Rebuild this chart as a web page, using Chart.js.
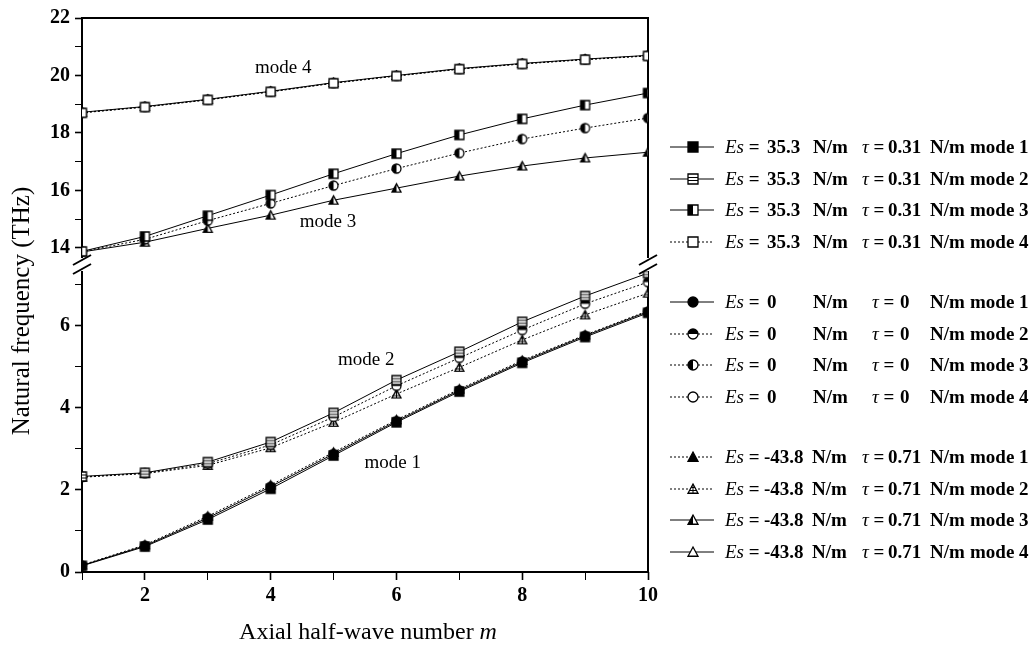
<!DOCTYPE html>
<html>
<head>
<meta charset="utf-8">
<script src="https://cdn.jsdelivr.net/npm/chart.js@4.4.0/dist/chart.umd.min.js"></script>
<style>
html,body{margin:0;padding:0;background:#fff;}
#wrap{position:relative;width:1036px;height:655px;overflow:hidden;}
#c{position:absolute;left:0;top:0;}
#legend{position:absolute;left:0;top:0;width:1036px;height:655px;pointer-events:none;
  font-family:'Liberation Serif','Times New Roman',serif;font-size:19px;font-weight:bold;color:#000;}
.row{position:absolute;left:0;width:1036px;height:24px;line-height:24px;}
.row span{position:absolute;top:0;white-space:nowrap;}
.row i{font-weight:normal;}
.row canvas{position:absolute;top:4px;left:668px;}
</style>
</head>
<body>
<div id="wrap">
  <canvas id="c" width="1036" height="655"></canvas>
  <div id="legend"></div>
</div>
<script>
// ---------------- data ----------------
const halfWaveNumbers = [1, 2, 3, 4, 5, 6, 7, 8, 9, 10];

// Es = 35.3 N/m, tau = 0.31 N/m
const es35Mode1 = [0.15, 0.62, 1.28, 2.03, 2.84, 3.65, 4.40, 5.10, 5.73, 6.32];
const es35Mode2 = [2.33, 2.42, 2.68, 3.17, 3.88, 4.68, 5.37, 6.10, 6.73, 7.29];
const es35Mode3 = [13.88, 14.40, 15.12, 15.84, 16.58, 17.28, 17.93, 18.49, 18.97, 19.39];
const es35Mode4 = [18.70, 18.90, 19.15, 19.43, 19.73, 19.98, 20.22, 20.40, 20.55, 20.68];

// Es = 0 N/m, tau = 0 N/m
const es0Mode1 = [0.16, 0.64, 1.32, 2.08, 2.88, 3.68, 4.43, 5.13, 5.76, 6.35];
const es0Mode2 = [2.32, 2.41, 2.64, 3.10, 3.78, 4.54, 5.22, 5.90, 6.54, 7.07];
const es0Mode3 = [13.87, 14.30, 14.95, 15.55, 16.17, 16.76, 17.30, 17.79, 18.17, 18.52];
const es0Mode4 = [18.71, 18.91, 19.16, 19.44, 19.74, 19.99, 20.23, 20.41, 20.56, 20.69];

// Es = -43.8 N/m, tau = 0.71 N/m
const esNegMode1 = [0.17, 0.66, 1.36, 2.12, 2.92, 3.71, 4.46, 5.16, 5.78, 6.37];
const esNegMode2 = [2.31, 2.40, 2.60, 3.03, 3.65, 4.34, 4.99, 5.66, 6.27, 6.80];
const esNegMode3 = [13.86, 14.20, 14.68, 15.14, 15.66, 16.08, 16.50, 16.85, 17.13, 17.33];
const esNegMode4 = [18.72, 18.92, 19.17, 19.45, 19.75, 20.00, 20.24, 20.42, 20.57, 20.70];

const esLabels = ['35.3', '0', '-43.8'];
const tauLabels = ['0.31', '0', '0.71'];
const modeNames = ['mode 1', 'mode 2', 'mode 3', 'mode 4'];

const xTickValues = [1, 2, 3, 4, 5, 6, 7, 8, 9, 10];
const xTickLabels = ['', '2', '', '4', '', '6', '', '8', '', '10'];
const lowTickValues = [0, 1, 2, 3, 4, 5, 6, 7];
const lowTickLabels = ['0', '', '2', '', '4', '', '6', ''];
const highTickValues = [14, 15, 16, 17, 18, 19, 20, 21, 22];
const highTickLabels = ['14', '', '16', '', '18', '', '20', '', '22'];
const lowRange = [0, 7.34];
const highRange = [13.65, 22];

const annotationTexts = ['mode 4', 'mode 3', 'mode 2', 'mode 1'];
const annotationM = [4.2, 4.91, 5.52, 5.94];
const annotationValues = [20.26, 14.9, 5.17, 2.66];
const annotationAxes = ['yHigh', 'yHigh', 'yLow', 'yLow'];

const seriesByCondition = [
  [es35Mode1, es35Mode2, es35Mode3, es35Mode4],
  [es0Mode1, es0Mode2, es0Mode3, es0Mode4],
  [esNegMode1, esNegMode2, esNegMode3, esNegMode4]
];

// ---------------- styles ----------------
const FONT = "'Liberation Serif','Times New Roman',serif";
const markerShapes = ['square', 'circle', 'triangle'];
const markerFills = [
  ['full', 'hline', 'left', 'none'],
  ['full', 'top', 'left', 'none'],
  ['full', 'cross', 'left', 'none']
];
const dashed = [
  [false, false, false, true],
  [false, true, true, true],
  [true, true, false, false]
];

function makeMarker(shape, fill, size) {
  const pad = 2, n = size + pad * 2;
  const c = document.createElement('canvas');
  c.width = n; c.height = n;
  const g = c.getContext('2d');
  const cx = n / 2, cy = n / 2, r = size / 2;
  const path = () => {
    g.beginPath();
    if (shape === 'square') g.rect(cx - r, cy - r, size, size);
    else if (shape === 'circle') g.arc(cx, cy, r, 0, Math.PI * 2);
    else { g.moveTo(cx, cy - r); g.lineTo(cx + r, cy + r * 0.85); g.lineTo(cx - r, cy + r * 0.85); g.closePath(); }
  };
  path();
  g.fillStyle = fill === 'full' ? '#000' : '#fff';
  g.fill();
  if (fill === 'left' || fill === 'top') {
    g.save(); path(); g.clip();
    g.fillStyle = '#000';
    if (fill === 'left') g.fillRect(0, 0, cx, n); else g.fillRect(0, 0, n, cy);
    g.restore();
  }
  if (fill === 'hline' || fill === 'cross') {
    g.save(); path(); g.clip();
    g.strokeStyle = '#000'; g.lineWidth = 1;
    g.beginPath();
    g.moveTo(0, cy - 1.5); g.lineTo(n, cy - 1.5);
    g.moveTo(0, cy + 1.5); g.lineTo(n, cy + 1.5);
    if (fill === 'cross') { g.moveTo(cx, 0); g.lineTo(cx, n); }
    g.stroke();
    g.restore();
  }
  path();
  g.lineWidth = 1.3; g.strokeStyle = '#000'; g.stroke();
  return c;
}

const datasets = [];
for (let c = 0; c < 3; c++) {
  for (let k = 0; k < 4; k++) {
    const marker = makeMarker(markerShapes[c], markerFills[c][k], 9);
    datasets.push({
      label: 'Es = ' + esLabels[c] + ' N/m  \u03c4 = ' + tauLabels[c] + ' N/m ' + modeNames[k],
      data: halfWaveNumbers.map((m, i) => ({ x: m, y: seriesByCondition[c][k][i] })),
      yAxisID: k < 2 ? 'yLow' : 'yHigh',
      borderColor: '#000',
      backgroundColor: '#000',
      borderWidth: 1,
      borderDash: dashed[c][k] ? [2, 2] : [],
      pointStyle: marker,
      pointRadius: 5,
      tension: 0,
      fill: false
    });
  }
}

// ---------------- plugins ----------------
function line(ctx, x1, y1, x2, y2) { ctx.beginPath(); ctx.moveTo(x1, y1); ctx.lineTo(x2, y2); ctx.stroke(); }

const framePlugin = {
  id: 'frame',
  beforeDatasetsDraw(chart) {
    const ctx = chart.ctx, a = chart.chartArea;
    const hi = chart.scales.yHigh, lo = chart.scales.yLow;
    ctx.save();
    ctx.strokeStyle = '#000'; ctx.lineWidth = 2;
    line(ctx, a.left - 1, a.top, a.right + 1, a.top);
    line(ctx, a.left - 1, a.bottom, a.right + 1, a.bottom);
    [a.left, a.right].forEach(x => {
      line(ctx, x, hi.top, x, hi.bottom);
      line(ctx, x, lo.top, x, lo.bottom);
    });
    ctx.restore();
  },
  afterDraw(chart) {
    const ctx = chart.ctx, a = chart.chartArea;
    const hi = chart.scales.yHigh, lo = chart.scales.yLow;
    const mid = (hi.bottom + lo.top) / 2;
    ctx.save();
    ctx.strokeStyle = '#000'; ctx.lineWidth = 2;
    [a.left, a.right].forEach(x => {
      [mid - 4.5, mid + 4.5].forEach(yb => line(ctx, x - 9, yb + 5, x + 9, yb - 5));
    });
    // annotations
    ctx.fillStyle = '#000';
    ctx.font = '19px ' + FONT;
    ctx.textAlign = 'center'; ctx.textBaseline = 'middle';
    annotationTexts.forEach((t, i) => {
      const px = chart.scales.x.getPixelForValue(annotationM[i]);
      const py = chart.scales[annotationAxes[i]].getPixelForValue(annotationValues[i]);
      ctx.fillText(t, px, py);
    });
    // y axis title
    ctx.save();
    ctx.translate(22, (a.top + a.bottom) / 2 + 16);
    ctx.rotate(-Math.PI / 2);
    ctx.font = '25px ' + FONT;
    ctx.fillText('Natural frequency (THz)', 0, 0);
    ctx.restore();
    // x axis title with italic m
    const t1 = 'Axial half-wave number ', t2 = 'm';
    ctx.font = '24px ' + FONT;
    const w1 = ctx.measureText(t1).width;
    ctx.font = 'italic 24px ' + FONT;
    const w2 = ctx.measureText(t2).width;
    const x0 = (a.left + a.right) / 2 + 3 - (w1 + w2) / 2;
    ctx.textAlign = 'left';
    ctx.font = '24px ' + FONT;
    ctx.fillText(t1, x0, 633);
    ctx.font = 'italic 24px ' + FONT;
    ctx.fillText(t2, x0 + w1, 633);
    ctx.restore();
  }
};

const tickFont = { family: FONT, size: 20, weight: 'bold' };
const tickWidthFn = ctx => (ctx.tick && ctx.tick.label !== '' ? 1.6 : 1);

const chart = new Chart(document.getElementById('c'), {
  type: 'line',
  data: { datasets },
  plugins: [framePlugin],
  options: {
    responsive: false,
    animation: false,
    devicePixelRatio: 1,
    events: [],
    layout: { padding: { left: 40, right: 388, top: 18, bottom: 0 } },
    plugins: { legend: { display: false }, tooltip: { enabled: false } },
    scales: {
      x: {
        type: 'linear', min: 1, max: 10,
        afterBuildTicks: s => { s.ticks = xTickValues.map(v => ({ value: v })); },
        afterFit: s => { s.height = 83; },
        ticks: {
          font: tickFont, color: '#000', padding: 4, maxRotation: 0, autoSkip: false,
          callback: v => xTickLabels[xTickValues.indexOf(v)]
        },
        grid: { drawOnChartArea: false, tickLength: 8, tickColor: '#000', tickWidth: tickWidthFn },
        border: { display: false }
      },
      yLow: {
        type: 'linear', position: 'left', stack: 'y', stackWeight: 301,
        min: lowRange[0], max: lowRange[1],
        afterBuildTicks: s => { s.ticks = lowTickValues.map(v => ({ value: v })); },
        afterFit: s => { s.width = 42; },
        ticks: {
          font: tickFont, color: '#000', padding: 5, autoSkip: false,
          callback: v => lowTickLabels[lowTickValues.indexOf(v)]
        },
        grid: { drawOnChartArea: false, tickLength: 7, tickColor: '#000', tickWidth: tickWidthFn },
        border: { display: false }
      },
      yGap: {
        type: 'linear', position: 'left', stack: 'y', stackWeight: 13,
        min: 0, max: 1,
        afterFit: s => { s.width = 42; },
        ticks: { display: false },
        grid: { display: false },
        border: { display: false }
      },
      yHigh: {
        type: 'linear', position: 'left', stack: 'y', stackWeight: 240,
        min: highRange[0], max: highRange[1],
        afterBuildTicks: s => { s.ticks = highTickValues.map(v => ({ value: v })); },
        afterFit: s => { s.width = 42; },
        ticks: {
          font: tickFont, color: '#000', padding: 5, autoSkip: false,
          callback: v => highTickLabels[highTickValues.indexOf(v)]
        },
        grid: { drawOnChartArea: false, tickLength: 7, tickColor: '#000', tickWidth: tickWidthFn },
        border: { display: false }
      }
    }
  }
});

// ---------------- HTML legend built from the datasets ----------------
const legendEl = document.getElementById('legend');
const esValLeft = [767, 767, 764];
const nmLeft = [813, 813, 812];
const tauLeft = [862, 872, 862];
const tauValLeft = [888, 900, 888];
chart.data.datasets.forEach((ds, i) => {
  const g = Math.floor(i / 4), r = i % 4;
  const row = document.createElement('div');
  row.className = 'row';
  row.style.top = (147 + g * 155 + r * 31.5 - 12) + 'px';
  const cv = document.createElement('canvas');
  cv.width = 48; cv.height = 16;
  const cx = cv.getContext('2d');
  cx.strokeStyle = '#000'; cx.lineWidth = 1;
  cx.setLineDash(ds.borderDash);
  cx.beginPath(); cx.moveTo(2, 8); cx.lineTo(46, 8); cx.stroke();
  cx.setLineDash([]);
  const mk = makeMarker(markerShapes[g], markerFills[g][r], 10);
  cx.drawImage(mk, 25 - mk.width / 2, 8 - mk.height / 2);
  row.appendChild(cv);
  const parts = [
    [725, '<i>Es</i> ='], [esValLeft[g], esLabels[g]], [nmLeft[g], 'N/m'],
    [tauLeft[g], '<i>\u03c4</i> ='], [tauValLeft[g], tauLabels[g]], [930, 'N/m'], [970, modeNames[r]]
  ];
  parts.forEach(([left, html]) => {
    const s = document.createElement('span');
    s.style.left = left + 'px';
    s.innerHTML = html;
    row.appendChild(s);
  });
  legendEl.appendChild(row);
});
</script>
</body>
</html>
